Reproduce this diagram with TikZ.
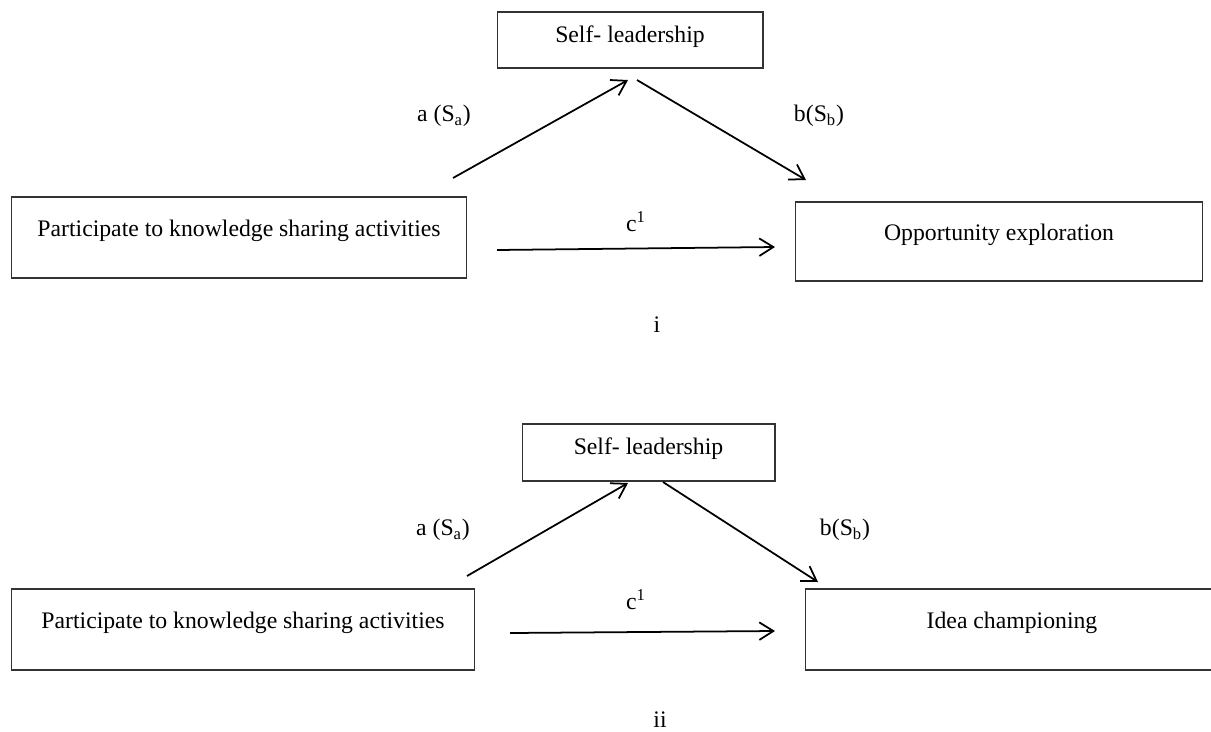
\documentclass[tikz,border=0pt]{standalone}
\usepackage{fontspec}
\setmainfont{Liberation Serif}
\usetikzlibrary{arrows.meta}
\newcommand{\sub}[1]{\textsubscript{#1}}
\newcommand{\supr}[1]{\textsuperscript{#1}}

\begin{document}
\begin{tikzpicture}[x=0.02cm,y=-0.02cm,
    box/.style={draw=black!80,line width=0.6pt,inner sep=0pt,
      text height=9pt,text depth=10.5pt,font=\fontsize{13.5}{16}\selectfont},
    midbox/.style={box,text depth=6.5pt},
    path/.style={line width=1pt,-{Straight Barb[length=8pt,width=10pt]}},
    lbl/.style={font=\fontsize{13.5}{16}\selectfont}]
   \useasboundingbox (0,0) rectangle (1211,731);
   % i
   \node[midbox,minimum width=5.32cm,minimum height=1.12cm] (self1) at (630,40) {Self- leadership};
   \node[box,minimum width=9.12cm,minimum height=1.62cm] (share1) at (239,237.5) {Participate to knowledge sharing activities};
   \node[box,minimum width=8.16cm,minimum height=1.58cm] (explore) at (999,241.5) {Opportunity exploration};
   \coordinate (a1s) at (453,178);
   \coordinate (a1e) at (628,80);
   \coordinate (b1s) at (637,80);
   \coordinate (b1e) at (806,180);
   \coordinate (c1s) at (497,250);
   \coordinate (c1e) at (775,247);
   \draw[path] (a1s) -- (a1e);
   \draw[path] (b1s) -- (b1e);
   \draw[path] (c1s) -- (c1e);
   \node[lbl] (la1) at (444,116) {a (S\sub{a})};
   \node[lbl] (lb1) at (819,116) {b(S\sub{b})};
   \node[lbl] (lc1) at (636,222) {c\supr{1}};
   \node[lbl] (cap1) at (657,325) {i};
   % ii
   \node[midbox,minimum width=5.06cm,minimum height=1.14cm] (self2) at (648.5,452.5) {Self- leadership};
   \node[box,minimum width=9.28cm,minimum height=1.62cm] (share2) at (243,629.5) {Participate to knowledge sharing activities};
   \node[box,minimum width=8.28cm,minimum height=1.62cm] (idea) at (1012,629.5) {Idea championing};
   \coordinate (a2s) at (467,576);
   \coordinate (a2e) at (628,483);
   \coordinate (b2s) at (663,482);
   \coordinate (b2e) at (818,582);
   \coordinate (c2s) at (510,633);
   \coordinate (c2e) at (775,631);
   \draw[path] (a2s) -- (a2e);
   \draw[path] (b2s) -- (b2e);
   \draw[path] (c2s) -- (c2e);
   \node[lbl] (la2) at (443,530) {a (S\sub{a})};
   \node[lbl] (lb2) at (845,530) {b(S\sub{b})};
   \node[lbl] (lc2) at (636,600) {c\supr{1}};
   \node[lbl] (cap2) at (660,720) {ii};
\end{tikzpicture}
\end{document}
